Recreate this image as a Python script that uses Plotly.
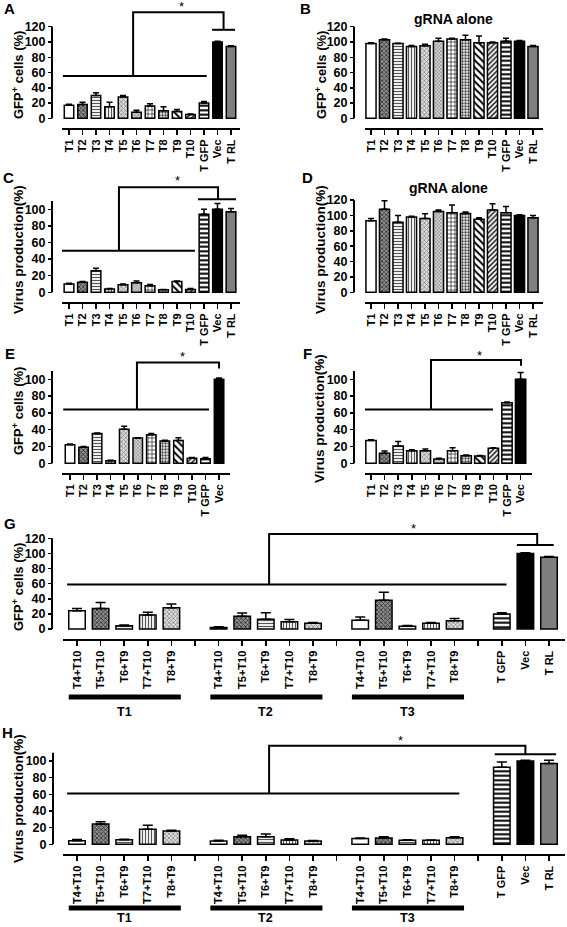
import plotly.graph_objects as go

W, H = 567, 927
FONT = "Liberation Sans, Arial, sans-serif"

# ---------------- data ----------------
labels_A = ["T1", "T2", "T3", "T4", "T5", "T6", "T7", "T8", "T9", "T10", "T GFP", "Vec", "T RL"]
labels_E = labels_A[:12]
combos = ["T4+T10", "T5+T10", "T6+T9", "T7+T10", "T8+T9"]
group_names = ["T1", "T2", "T3"]
controls = ["T GFP", "Vec", "T RL"]
labels_G = combos + [""] + combos + [""] + combos + [""] + controls

A_vals = [17, 18, 30, 15, 28, 8, 16, 10, 9, 5, 20, 100, 94]
A_err = [1.5, 3, 3.5, 6, 2, 2.5, 3, 5, 2.5, 0.5, 2, 1, 1]

B_vals = [98, 103, 98, 94, 95, 101, 104, 103, 99, 99, 101, 101, 94]
B_err = [1, 1, 0.5, 1.5, 2, 4, 1, 6, 9, 1, 4, 1, 1.5]

C_vals = [10, 12, 26, 4, 9, 11.5, 8, 3, 13, 3.5, 94, 100, 97]
C_err = [1, 1, 3, 0.5, 1, 2, 1.5, 0.5, 0.5, 1, 6, 7, 4]

D_vals = [93, 108, 91, 98, 96, 105, 103.5, 102.5, 95, 107, 103.5, 100, 97]
D_err = [3, 11, 9, 1, 6, 2, 10, 2, 2, 8, 8, 1, 3]

E_vals = [22, 19, 35.5, 3, 40.5, 30, 34, 26.5, 27, 6, 5.5, 100]
E_err = [1, 1, 0.5, 0.5, 3.5, 0.5, 1.5, 1, 3.5, 1, 1.5, 1.5]

F_vals = [27, 12, 20.5, 15, 15, 5, 15, 9, 8.7, 18, 72, 100]
F_err = [1, 2.5, 5.5, 1, 2, 1, 3.5, 1, 0.5, 0.5, 1, 8]

G_T1 = [24, 27, 4.4, 18.5, 28]
G_T1_err = [3, 8, 0.8, 3.5, 5]
G_T2 = [2, 17, 13, 9.7, 7.5]
G_T2_err = [1, 4, 8.5, 3, 1]
G_T3 = [11.5, 38, 3.5, 7.5, 11]
G_T3_err = [4.5, 10.5, 1, 1, 3]
G_ctrl = [20, 100, 95]
G_ctrl_err = [1.6, 1, 1]

H_T1 = [4.4, 24.4, 5.6, 18, 16]
H_T1_err = [1.5, 2.6, 0.5, 5, 1]
H_T2 = [4, 9, 9, 5.2, 4]
H_T2_err = [1, 2, 3.4, 1.6, 0.5]
H_T3 = [7, 7.6, 5, 4.8, 8]
H_T3_err = [0.5, 1.5, 0.5, 0.5, 1]
H_ctrl = [92.4, 100, 97]
H_ctrl_err = [6.5, 1, 4]

ytitle_gfp = "GFP<sup>+</sup> cells (%)"
ytitle_virus = "Virus production(%)"

# ---------------- styles ----------------
# (background colour, pattern shape, fg colour, size, solidity)
STY = {
    "T1": ("white", "", None, None, None),
    "T2": ("#909090", "x", "#2a2a2a", 3, 0.45),
    "T3": ("white", "-", "#555555", 3, 0.4),
    "T4": ("white", "|", "#555555", 3, 0.4),
    "T5": ("#dddddd", "x", "#7a7a7a", 3, 0.4),
    "T6": ("#d4d4d4", "x", "#8a8a8a", 2.5, 0.45),
    "T7": ("white", "+", "#333333", 4, 0.35),
    "T8": ("#eeeeee", ".", "#404040", 3, 0.45),
    "T9": ("white", "\\", "black", 5, 0.4),
    "T10": ("white", "/", "black", 3.5, 0.4),
    "T GFP": ("white", "-", "black", 4.5, 0.45),
    "Vec": ("black", "", None, None, None),
    "T RL": ("#7f7f7f", "", None, None, None),
}
COMBO_STY = {"T4+T10": "T1", "T5+T10": "T2", "T6+T9": "T3", "T7+T10": "T4", "T8+T9": "T5"}

# ---------------- panel geometry (pixels) ----------------
panels = [
    dict(k="A", labels=labels_A, vals=A_vals, errs=A_err, y0=118.3, s=0.763, xax=128, ypx=52,
         xl=62, xr=240, c0=69, sp=13.5, top=0, ymax=120, bw=0.7, ttl=ytitle_gfp, tpos=(18, 75),
         letter=(9, 9), tsize=13,
         br=[[(-0.45, 55.5), (10.2, 55.5)], [(4.75, 55.5), (4.75, 139), (11.45, 139), (11.45, 116)],
             [(10.6, 116), (12.3, 116)]], star=(8.3, 146)),
    dict(k="B", labels=labels_A, vals=B_vals, errs=B_err, y0=118.3, s=0.763, xax=128, ypx=354,
         xl=365, xr=543, c0=371, sp=13.5, top=0, ymax=120, bw=0.75, ttl=ytitle_gfp, tpos=(321, 75),
         letter=(305, 9), tsize=13, title=("gRNA alone", 453, 19)),
    dict(k="C", labels=labels_A, vals=C_vals, errs=C_err, y0=292.3, s=0.83, xax=302, ypx=52,
         xl=62, xr=240, c0=69, sp=13.5, top=168, ymax=110, bw=0.72, ttl=ytitle_virus, tpos=(18, 250),
         letter=(8, 178), tsize=13.5,
         br=[[(-0.52, 50), (9.33, 50)], [(3.7, 50), (3.7, 126.5), (11.04, 126.5), (11.04, 112)],
             [(9.56, 112), (12.37, 112)]], star=(8.0, 135)),
    dict(k="D", labels=labels_A, vals=D_vals, errs=D_err, y0=292.3, s=0.769, xax=302, ypx=354,
         xl=365, xr=543, c0=371, sp=13.5, top=168, ymax=120, bw=0.75, ttl=ytitle_virus, tpos=(320, 250),
         letter=(307, 178), tsize=13.5, title=("gRNA alone", 448, 188)),
    dict(k="E", labels=labels_E, vals=E_vals, errs=E_err, y0=463.3, s=0.84, xax=472.7, ypx=52,
         xl=62, xr=230, c0=70, sp=13.55, top=340, ymax=110, bw=0.7, ttl=ytitle_gfp, tpos=(18, 411),
         letter=(10, 353), tsize=13,
         br=[[(-0.5, 64), (10.26, 64)], [(4.94, 64), (4.94, 120), (11, 120), (11, 113)]], star=(8.27, 127)),
    dict(k="F", labels=labels_E, vals=F_vals, errs=F_err, y0=463.3, s=0.84, xax=472.7, ypx=354,
         xl=365, xr=532, c0=371, sp=13.6, top=340, ymax=110, bw=0.76, ttl=ytitle_virus, tpos=(320, 419),
         letter=(307, 353), tsize=13.5,
         br=[[(-0.66, 64), (8.97, 64)], [(4.41, 64), (4.41, 123), (11.03, 123), (11.03, 116)]], star=(8.0, 128)),
    dict(k="G", labels=labels_G, vals=G_T1 + G_T2 + G_T3 + G_ctrl,
         errs=G_T1_err + G_T2_err + G_T3_err + G_ctrl_err, y0=629, s=0.756, xax=639.3, ypx=52,
         xl=63, xr=565, c0=77, sp=23.6, top=508, ymax=120, bw=0.7, ttl=ytitle_gfp, tpos=(18, 587),
         letter=(10, 523), tsize=13, under=697, glab=(712, "middle"),
         br=[[(-0.42, 59), (18.2, 59)], [(8.14, 59), (8.14, 125.7), (19.5, 125.7), (19.5, 111)],
             [(18.64, 111), (20.2, 111)]], star=(14.24, 133)),
    dict(k="H", labels=labels_G, vals=H_T1 + H_T2 + H_T3 + H_ctrl,
         errs=H_T1_err + H_T2_err + H_T3_err + H_ctrl_err, y0=844.3, s=0.833, xax=854.3, ypx=53,
         xl=63, xr=565, c0=77, sp=23.6, top=715, ymax=110, bw=0.7, ttl=ytitle_virus, tpos=(18, 799),
         letter=(7, 732), tsize=13.5, under=908, glab=(927, "bottom"),
         br=[[(-0.42, 61), (16.2, 61)], [(8.14, 61), (8.14, 118.4), (19.0, 118.4), (19.0, 108)],
             [(17.7, 108), (20.3, 108)]], star=(13.7, 125)),
]

fig = go.Figure()
layout = dict(template="none", width=W, height=H, margin=dict(l=0, r=0, t=0, b=0, autoexpand=False),
              autosize=False, paper_bgcolor="white", plot_bgcolor="rgba(0,0,0,0)", showlegend=False,
              font=dict(family=FONT, color="black"), hovermode=False, barmode="overlay")
shapes = []
annotations = []

for i, p in enumerate(panels, start=1):
    xa = "x" if i == 1 else f"x{i}"
    ya = "y" if i == 1 else f"y{i}"
    xkey = "xaxis" if i == 1 else f"xaxis{i}"
    ykey = "yaxis" if i == 1 else f"yaxis{i}"

    labels = p["labels"]
    pos = [j for j, l in enumerate(labels) if l]
    labs = [labels[j] for j in pos]

    # one trace per bar style so each pattern is scalar
    groups = {}
    for xpos, lab, v, e in zip(pos, labs, p["vals"], p["errs"]):
        key = COMBO_STY.get(lab, lab)
        groups.setdefault(key, ([], [], []))
        groups[key][0].append(xpos)
        groups[key][1].append(v)
        groups[key][2].append(e)
    for key, (xs, vs, es) in groups.items():
        bg, shp, fg, sz, sol = STY[key]
        marker = dict(color=bg, line=dict(color="black", width=1.5))
        if shp:
            marker["pattern"] = dict(shape=shp, fgcolor=fg, bgcolor=bg, size=sz, solidity=sol,
                                     fillmode="replace")
        fig.add_trace(go.Bar(
            x=xs, y=vs, xaxis=xa, yaxis=ya, width=p["bw"], marker=marker,
            error_y=dict(type="data", array=es, arrayminus=[0] * len(xs), symmetric=False,
                         thickness=1.5, width=3 if p["sp"] < 20 else 5, color="black"),
        ))

    # significance brackets
    bx, by = [], []
    for seg in p.get("br", []):
        for (x, y) in seg:
            bx.append(x)
            by.append(y)
        bx.append(None)
        by.append(None)
    if bx:
        fig.add_trace(go.Scatter(x=bx, y=by, xaxis=xa, yaxis=ya, mode="lines",
                                 line=dict(color="black", width=2), hoverinfo="skip"))
        sx, sy = p["star"]
        annotations.append(dict(x=sx, y=sy, xref=xa, yref=ya, text="*", showarrow=False,
                                font=dict(size=13, family=FONT, color="black"), yanchor="middle"))

    # geometry
    y_lo = (p["y0"] - p["xax"]) / p["s"]
    y_hi = (p["y0"] - p["top"]) / p["s"]
    x_lo = (p["xl"] - p["c0"]) / p["sp"]
    x_hi = (p["xr"] - p["c0"]) / p["sp"]

    layout[xkey] = dict(domain=[p["xl"] / W, p["xr"] / W], range=[x_lo, x_hi], anchor=ya,
                        automargin=False, fixedrange=True,
                        showline=True, linecolor="black", linewidth=2, showgrid=False, zeroline=False,
                        tickmode="array", tickvals=list(range(len(labels))), ticktext=labels,
                        ticks="outside", ticklen=5, tickwidth=1.5, tickcolor="black", tickangle=-90,
                        tickfont=dict(family=FONT, size=11, color="black", weight="bold"))
    yticks = list(range(0, p["ymax"] + 1, 20))
    layout[ykey] = dict(domain=[1 - p["xax"] / H, 1 - p["top"] / H], range=[y_lo, y_hi],
                        automargin=False, fixedrange=True,
                        anchor="free", position=p["ypx"] / W, showline=False, showgrid=False,
                        zeroline=False, tickmode="array", tickvals=yticks,
                        ticks="outside", ticklen=4, tickwidth=1.5, tickcolor="black",
                        tickfont=dict(family=FONT, size=12.5, color="black", weight="bold"))
    shapes.append(dict(type="line", xref="paper", yref=ya, x0=p["ypx"] / W, x1=p["ypx"] / W,
                       y0=0, y1=p["ymax"], line=dict(color="black", width=2)))

    # y title
    tx, ty = p["tpos"]
    annotations.append(dict(x=tx / W, y=1 - ty / H, xref="paper", yref="paper", text=p["ttl"],
                            textangle=-90, showarrow=False, xanchor="center", yanchor="middle",
                            font=dict(family=FONT, size=p["tsize"], color="black", weight="bold")))
    # panel letter
    lx, ly = p["letter"]
    annotations.append(dict(x=lx / W, y=1 - ly / H, xref="paper", yref="paper", text=p["k"],
                            showarrow=False, xanchor="center", yanchor="middle",
                            font=dict(family=FONT, size=15, color="black", weight="bold")))
    if "title" in p:
        t, tx2, ty2 = p["title"]
        annotations.append(dict(x=tx2 / W, y=1 - ty2 / H, xref="paper", yref="paper", text=t,
                                showarrow=False, xanchor="center", yanchor="middle",
                                font=dict(family=FONT, size=14, color="black", weight="bold")))
    if "under" in p:
        gy, ganchor = p["glab"]
        for g, name in enumerate(group_names):
            shapes.append(dict(type="line", xref=xa, yref="paper", x0=6 * g - 0.35, x1=6 * g + 4.4,
                               y0=1 - p["under"] / H, y1=1 - p["under"] / H,
                               line=dict(color="black", width=5)))
            annotations.append(dict(x=6 * g + 2, y=1 - gy / H, xref=xa, yref="paper",
                                    text=name, showarrow=False, xanchor="center", yanchor=ganchor,
                                    font=dict(family=FONT, size=12.5, color="black", weight="bold")))

layout["shapes"] = shapes
layout["annotations"] = annotations
fig.update_layout(**layout)
fig.write_html("out.html", config={"displayModeBar": False, "staticPlot": True},
               post_script="document.body.style.margin='0px';")

# remove the default page margin so the figure sits at the window origin
with open("out.html", "r", encoding="utf-8") as fh:
    html = fh.read()
html = html.replace("<head>", "<head><style>html,body{margin:0;padding:0;}</style>", 1)
with open("out.html", "w", encoding="utf-8") as fh:
    fh.write(html)
